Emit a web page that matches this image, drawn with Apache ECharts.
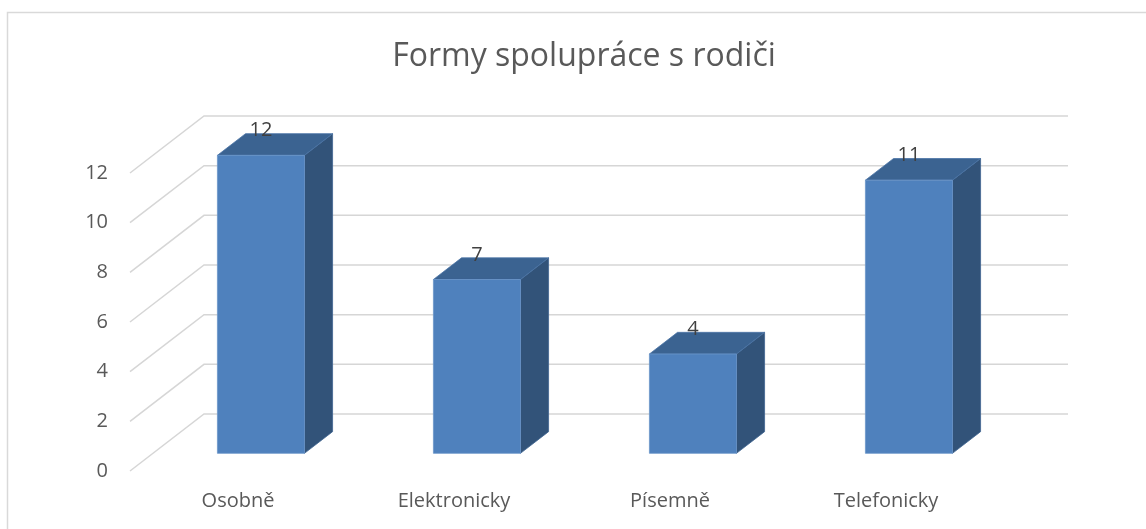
<!DOCTYPE html>
<html>
<head>
<meta charset="utf-8">
<script src="https://cdn.jsdelivr.net/npm/echarts@6/dist/echarts.min.js"></script>
<style>
  html, body { margin: 0; padding: 0; background: #fff; }
  #chart { width: 1146px; height: 529px; }
</style>
</head>
<body>
<div id="chart"></div>
<script>
// data
const categories = ['Osobně', 'Elektronicky', 'Písemně', 'Telefonicky'];
const values = [12, 7, 4, 11];
const yTicks = [0, 2, 4, 6, 8, 10, 12];
const titleText = 'Formy spolupráce s rodiči';

// oblique depth of the 3D box (full depth, front plane -> back wall)
const DEPTH_X = 74;
const DEPTH_Y = -57;
// bar sits between these depth fractions
const BAR_Z0 = 0.31;
const BAR_Z1 = 0.69;

const chart = echarts.init(document.getElementById('chart'));

// back wall gridlines + diagonal lines on the side wall
function renderGrid(params, api) {
    const v = api.value(0);
    const p = api.coord([0, v]);
    const cs = params.coordSys;
    const y = p[1];
    return {
        type: 'polyline',
        shape: {
            points: [
                [cs.x, y],
                [cs.x + DEPTH_X, y + DEPTH_Y],
                [cs.x + cs.width + DEPTH_X, y + DEPTH_Y]
            ]
        },
        style: { stroke: '#d6d6d6', lineWidth: 1.5, fill: null }
    };
}

function renderBar(params, api) {
    const idx = api.value(0);
    const val = api.value(1);
    const base = api.coord([idx, 0]);
    const top = api.coord([idx, val]);
    const band = api.size([1, 0])[0];
    const w = band * 0.403;
    const ox = DEPTH_X * BAR_Z0, oy = DEPTH_Y * BAR_Z0;
    const dx = DEPTH_X * (BAR_Z1 - BAR_Z0), dy = DEPTH_Y * (BAR_Z1 - BAR_Z0);
    const xl = base[0] - w / 2 + ox;
    const xr = xl + w;
    const yb = base[1] + oy;
    const yt = top[1] + oy;
    return {
        type: 'group',
        children: [
            {
                type: 'polygon',
                shape: { points: [[xr, yt], [xr + dx, yt + dy], [xr + dx, yb + dy], [xr, yb]] },
                style: { fill: '#325379', stroke: '#3f6591', lineWidth: 0.8 }
            },
            {
                type: 'polygon',
                shape: { points: [[xl, yt], [xl + dx, yt + dy], [xr + dx, yt + dy], [xr, yt]] },
                style: { fill: '#3b6391', stroke: '#4a74a6', lineWidth: 0.8 }
            },
            {
                type: 'rect',
                shape: { x: xl, y: yt, width: w, height: yb - yt },
                style: { fill: '#4f81bd', stroke: '#6b95c9', lineWidth: 0.8 }
            },
            {
                type: 'text',
                x: (xl + xr) / 2,
                y: yt + dy - 3,
                style: {
                    text: String(val),
                    fill: '#404040',
                    font: '20px "Open Sans"',
                    align: 'center',
                    verticalAlign: 'middle'
                }
            }
        ]
    };
}

const option = {
    animation: false,
    backgroundColor: '#fff',
    textStyle: { fontFamily: 'Open Sans' },
    graphic: [
        {
            type: 'rect',
            shape: { x: 7.5, y: 12.5, width: 1300, height: 700 },
            style: { fill: null, stroke: '#d9d9d9', lineWidth: 1.5 },
            z: -10
        },
        {
            type: 'text',
            x: 584,
            y: 57,
            style: {
                text: titleText,
                fill: '#595959',
                font: '32px "Open Sans"',
                align: 'center',
                verticalAlign: 'middle'
            }
        }
    ],
    grid: {
        left: 130,
        top: 173,
        width: 864,
        height: 298
    },
    xAxis: {
        type: 'category',
        data: categories,
        axisLine: { show: false },
        axisTick: { show: false },
        splitLine: { show: false },
        axisLabel: { color: '#595959', fontSize: 20, margin: 20 }
    },
    yAxis: {
        type: 'value',
        min: 0,
        max: 12,
        interval: 2,
        axisLine: { show: false },
        axisTick: { show: false },
        splitLine: { show: false },
        axisLabel: { color: '#595959', fontSize: 20, margin: 22 }
    },
    series: [
        {
            type: 'custom',
            name: 'grid',
            renderItem: renderGrid,
            data: yTicks.map(v => [v]),
            encode: { y: 0 },
            silent: true,
            z: 1
        },
        {
            type: 'custom',
            name: 'Formy spolupráce',
            renderItem: renderBar,
            data: values.map((v, i) => [i, v]),
            encode: { x: 0, y: 1 },
            z: 2
        }
    ]
};

chart.setOption(option);
</script>
</body>
</html>
